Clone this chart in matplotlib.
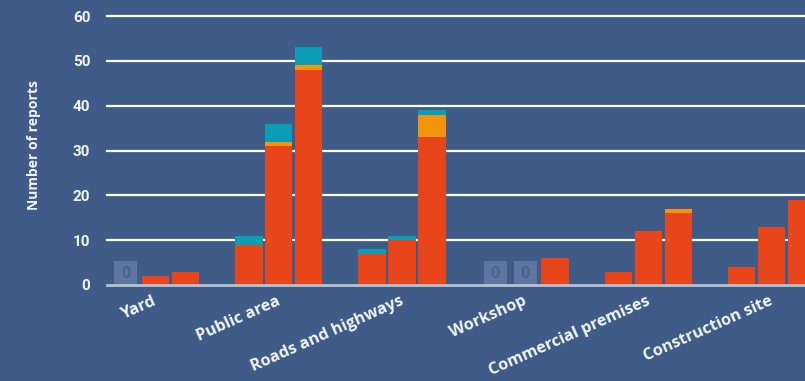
import numpy as np
import matplotlib

matplotlib.use('Agg')

import matplotlib.pyplot as plt

# categories and the three bars shown for each of them
categories = ["Yard", "Public area", "Roads and highways", "Workshop",
              "Commercial premises", "Construction site"]

# stacked segments, one row per category, one column per bar
red = [[0, 2, 3], [9, 31, 48], [7, 10, 33], [0, 0, 6], [3, 12, 16], [4, 13, 19]]
orange = [[0, 0, 0], [0, 1, 1], [0, 0, 5], [0, 0, 0], [0, 0, 1], [0, 0, 0]]
teal = [[0, 0, 0], [2, 4, 4], [1, 1, 1], [0, 0, 0], [0, 0, 0], [0, 0, 0]]

yticks = [0, 10, 20, 30, 40, 50, 60]

bg = '#3e5c87'
c_red = '#e8461a'
c_orange = '#f3950c'
c_teal = '#0a9db5'
c_zero = '#5f77a0'
c_zero_txt = '#48648f'
txt = '#f2f4f7'

plt.rcParams['font.family'] = ['Roboto', 'DejaVu Sans']
label_font = ['Open Sans', 'DejaVu Sans']

fig = plt.figure(figsize=(8.05, 3.81), dpi=100, facecolor=bg)
ax = fig.add_axes([107 / 805, 1 - 285 / 381, 698 / 805, 269 / 381])
ax.set_facecolor(bg)

red = np.array(red)
orange = np.array(orange)
teal = np.array(teal)
x = np.arange(len(categories))
pitch = 0.243
width = 0.223
zero_w = 0.187
zero_h = 5.3

for j in range(3):
    pos = x + (j - 1) * pitch
    ax.bar(pos, red[:, j], width, color=c_red, zorder=3)
    ax.bar(pos, orange[:, j], width, bottom=red[:, j], color=c_orange, zorder=3)
    ax.bar(pos, teal[:, j], width, bottom=red[:, j] + orange[:, j],
           color=c_teal, zorder=3)
    # empty bars get a grey placeholder with a 0 in it
    total = red[:, j] + orange[:, j] + teal[:, j]
    for p, t in zip(pos, total):
        if t == 0:
            ax.bar(p, zero_h, zero_w, color=c_zero, zorder=3)
            ax.text(p, zero_h / 2, '0', ha='center', va='center',
                    color=c_zero_txt, fontsize=12, fontweight='bold', zorder=4)

# gridlines and baseline
for v in yticks[1:]:
    ax.axhline(v, color='white', lw=1.6, zorder=1, clip_on=False)
ax.axhline(0, color='#b9c1cd', lw=2.0, zorder=5, clip_on=False)

ax.set_ylim(0, 60)
ax.set_xlim(-0.394, 5.272)
ax.set_yticks(yticks)
ax.set_yticklabels([str(v) for v in yticks])
ax.set_xticks(x - 0.02)
ax.set_xticklabels(categories, rotation=24, ha='right', rotation_mode='anchor',
                   family=label_font)
ax.tick_params(axis='y', length=0, pad=12, labelsize=11, labelcolor=txt)
ax.tick_params(axis='x', length=0, pad=6, labelsize=11.7, labelcolor=txt)
for lab in ax.get_xticklabels() + ax.get_yticklabels():
    lab.set_fontweight('bold')
for s in ax.spines.values():
    s.set_visible(False)

fig.text(34 / 805, 1 - 145.5 / 381, 'Number of reports', rotation=90,
         ha='center', va='center', color=txt, fontsize=10, fontweight='bold',
         family=label_font)

plt.savefig('out.png', dpi=100, facecolor=bg)
plt.close()
